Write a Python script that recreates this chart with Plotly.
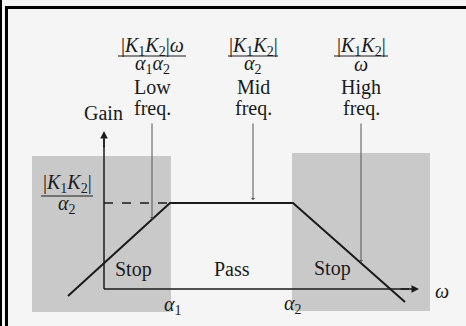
import plotly.graph_objects as go

# gain curve breakpoints (omega, gain) in drawing units, origin where the axes meet
curve_w = [-36, 66, 189, 301]
curve_gain = [-7, 86, 86, -13]
alpha1 = 66
alpha2 = 189
mid_gain = 86

# stop band boxes: [w0, w1, g0, g1]
stop_low = [-72, 67, -23, 133]
stop_high = [188, 326, -22, 136]

# band labels
band_labels = ["Stop", "Pass", "Stop"]
band_label_w = [29, 128, 228]
band_label_g = [20, 20, 21]

# pointers from the headings down to the curve
pointer_w = [48, 149, 257]
pointer_top = [167, 167, 167]
pointer_end = [70, 89, 27]
headings = ["Low", "Mid", "High"]
numerators = ["|<i>K</i><sub>1</sub><i>K</i><sub>2</sub>|<i>ω</i>",
              "|<i>K</i><sub>1</sub><i>K</i><sub>2</sub>|",
              "|<i>K</i><sub>1</sub><i>K</i><sub>2</sub>|"]
denominators = ["<i>α</i><sub>1</sub><i>α</i><sub>2</sub>",
                "<i>α</i><sub>2</sub>",
                "<i>ω</i>"]
frac_half = [34, 25, 27]

FONT = "Liberation Serif"
INK = "#1a1a1a"

fig = go.Figure()
fig.add_trace(go.Scatter(x=curve_w, y=curve_gain, mode="lines",
                         line=dict(color=INK, width=2), hoverinfo="skip"))

shapes = []
for box in [stop_low, stop_high]:
    shapes.append(dict(type="rect", xref="x", yref="y", x0=box[0], x1=box[1], y0=box[2], y1=box[3],
                       fillcolor="#c9c9c9", line=dict(width=0), layer="below"))
# dashed mid-band level
shapes.append(dict(type="line", xref="x", yref="y", x0=0, x1=alpha1, y0=mid_gain, y1=mid_gain,
                   line=dict(color=INK, width=1.5, dash="dash")))
# axes
shapes.append(dict(type="line", xref="x", yref="y", x0=0, x1=0, y0=0, y1=150, line=dict(color=INK, width=1.5)))
shapes.append(dict(type="line", xref="x", yref="y", x0=0, x1=305, y0=0, y1=0, line=dict(color=INK, width=1.5)))
# frame of the scan
shapes.append(dict(type="rect", xref="paper", yref="paper", x0=0, x1=2 / 466, y0=0, y1=1,
                   fillcolor="black", line=dict(width=0)))
shapes.append(dict(type="rect", xref="paper", yref="paper", x0=5 / 466, x1=8 / 466, y0=0, y1=1 - 6 / 326,
                   fillcolor="black", line=dict(width=0)))
shapes.append(dict(type="rect", xref="paper", yref="paper", x0=5 / 466, x1=1, y0=1 - 9 / 326, y1=1 - 6 / 326,
                   fillcolor="black", line=dict(width=0)))

annotations = []
txt = dict(font=dict(family=FONT, size=20, color=INK), showarrow=False, xref="x", yref="y")

# axis arrowheads
annotations.append(dict(x=0, y=158, ax=0, ay=140, xref="x", yref="y", axref="x", ayref="y", text="",
                        showarrow=True, arrowhead=2, arrowsize=1, arrowwidth=1.5, arrowcolor=INK))
annotations.append(dict(x=315, y=0, ax=295, ay=0, xref="x", yref="y", axref="x", ayref="y", text="",
                        showarrow=True, arrowhead=2, arrowsize=1, arrowwidth=1.5, arrowcolor=INK))

for i in range(3):
    annotations.append(dict(x=pointer_w[i], y=pointer_end[i], ax=pointer_w[i], ay=pointer_top[i],
                            xref="x", yref="y", axref="x", ayref="y", text="", showarrow=True,
                            arrowhead=1, arrowsize=0.7, arrowwidth=1, arrowcolor="#555555"))
    annotations.append(dict(txt, x=pointer_w[i], y=202, text=headings[i]))
    annotations.append(dict(txt, x=pointer_w[i], y=181, text="freq."))
    annotations.append(dict(txt, x=pointer_w[i], y=243, text=numerators[i]))
    annotations.append(dict(txt, x=pointer_w[i], y=225, text=denominators[i]))
    shapes.append(dict(type="line", xref="x", yref="y", x0=pointer_w[i] - frac_half[i], x1=pointer_w[i] + frac_half[i],
                       y0=233, y1=233, line=dict(color=INK, width=1)))
    annotations.append(dict(txt, x=band_label_w[i], y=band_label_g[i], text=band_labels[i]))

# vertical axis label and level
annotations.append(dict(txt, x=-1, y=176, text="Gain"))
annotations.append(dict(txt, x=-37, y=106, text=numerators[1]))
annotations.append(dict(txt, x=-37, y=85, text=denominators[1]))
shapes.append(dict(type="line", xref="x", yref="y", x0=-63, x1=-11, y0=93, y1=93, line=dict(color=INK, width=1)))

# horizontal axis labels
annotations.append(dict(txt, x=alpha1 + 3, y=-16, text="<i>α</i><sub>1</sub>"))
annotations.append(dict(txt, x=alpha2, y=-15, text="<i>α</i><sub>2</sub>"))
annotations.append(dict(txt, x=338, y=-2, text="<i>ω</i>"))

fig.update_layout(
    width=466, height=326,
    margin=dict(l=0, r=0, t=0, b=0),
    paper_bgcolor="#f5f5f5", plot_bgcolor="#f5f5f5",
    showlegend=False,
    xaxis=dict(range=[-104, 362], visible=False, fixedrange=True),
    yaxis=dict(range=[-37, 289], visible=False, fixedrange=True),
    shapes=shapes, annotations=annotations,
)

fig.write_html("out.html", config={"displayModeBar": False},
               post_script="document.body.style.margin='0';")
